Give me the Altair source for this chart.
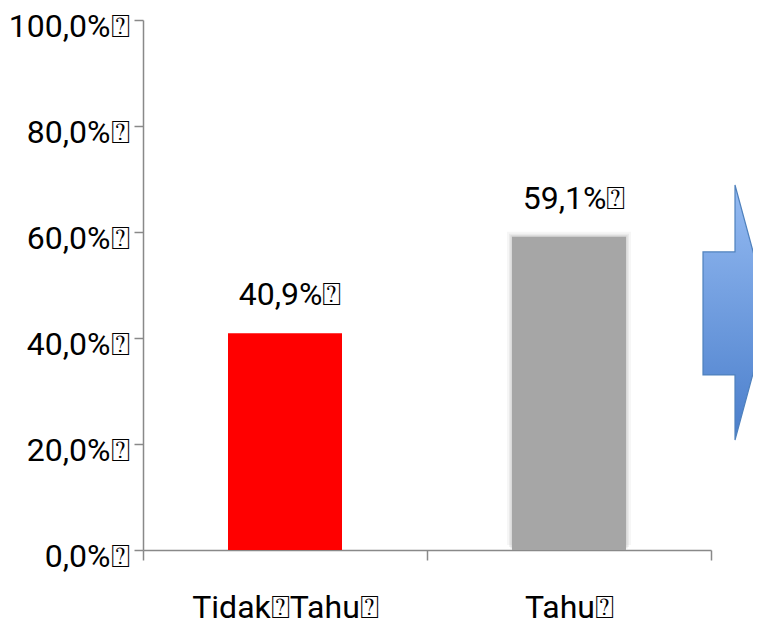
import altair as alt
import pandas as pd

categories = ["Tidak\u2370Tahu\u2370", "Tahu\u2370"]
values = [40.9, 59.1]
colors = ["#ff0000", "#a6a6a6"]

FONT = "Roboto, sans-serif"
FS = 32

df = pd.DataFrame({"cat": categories, "val": values, "color": colors})

base = alt.Chart(df).encode(
    x=alt.X("cat:N", sort=categories, title=None,
            scale=alt.Scale(paddingInner=0, paddingOuter=0),
            axis=alt.Axis(labelAngle=0, tickBand="extent", tickSize=10,
                          labelPadding=32, labelFontSize=FS, labelFont=FONT,
                          labelFontWeight="normal", labelLimit=0,
                          labelColor="#000000", domainColor="#898989",
                          tickColor="#898989", domainWidth=1.5, tickWidth=1.5,
                          labelBaseline="top")),
    y=alt.Y("val:Q", title=None,
            scale=alt.Scale(domain=[0, 100], nice=False),
            axis=alt.Axis(values=[0, 20, 40, 60, 80, 100], grid=False,
                          labelExpr="replace(format(datum.value, '.1f'), '.', ',') + '%\u2370'",
                          labelFontSize=FS, labelFont=FONT, labelColor="#000000",
                          labelFontWeight="normal", labelLimit=0,
                          tickSize=9, labelPadding=5, labelOffset=6,
                          domainColor="#898989", tickColor="#898989",
                          domainWidth=1.5, tickWidth=1.5)),
)

glow = alt.layer(*[
    base.transform_filter(alt.datum.cat == categories[1]).mark_bar(
        size=114 + w, color="#a6a6a6", opacity=op, yOffset=-w / 2)
    for w, op in [(10, 0.1), (6, 0.15), (3, 0.25)]
])

bars = base.mark_bar(size=114).encode(
    color=alt.Color("color:N", scale=None, legend=None)
)

labels = base.transform_calculate(
    lab="replace(format(datum.val, '.1f'), '.', ',') + '%\u2370'"
).mark_text(baseline="alphabetic", dy=-28, dx=5, fontSize=FS, font=FONT,
            color="#000000").encode(text="lab:N")

arrow_path = ("M -0.25 -0.473 L 0 -0.473 L 0 -0.996 L 0.27 0 L 0 0.996 "
              "L 0 0.488 L -0.25 0.488 Z")
arrow = alt.Chart(pd.DataFrame({"a": [0]})).mark_point(
    shape=arrow_path, size=65536, filled=True, opacity=1,
    fill=alt.LinearGradient(gradient="linear", x1=0, y1=0, x2=0, y2=1,
                            stops=[alt.GradientStop(offset=0, color="#95bbf2"),
                                   alt.GradientStop(offset=1, color="#4a7ecb")]),
    stroke="#4f81bd", strokeWidth=1.2,
).encode(x=alt.value(592), y=alt.value(292.5))

chart = alt.layer(glow, bars, labels, arrow).properties(
    width=568, height=530,
    autosize=alt.AutoSizeParams(type="none"),
    padding={"left": 135, "top": 12, "right": 42, "bottom": 75},
    background="#ffffff",
).configure_view(stroke=None)

chart.save("out.html", embed_options={"renderer": "svg", "actions": False})
